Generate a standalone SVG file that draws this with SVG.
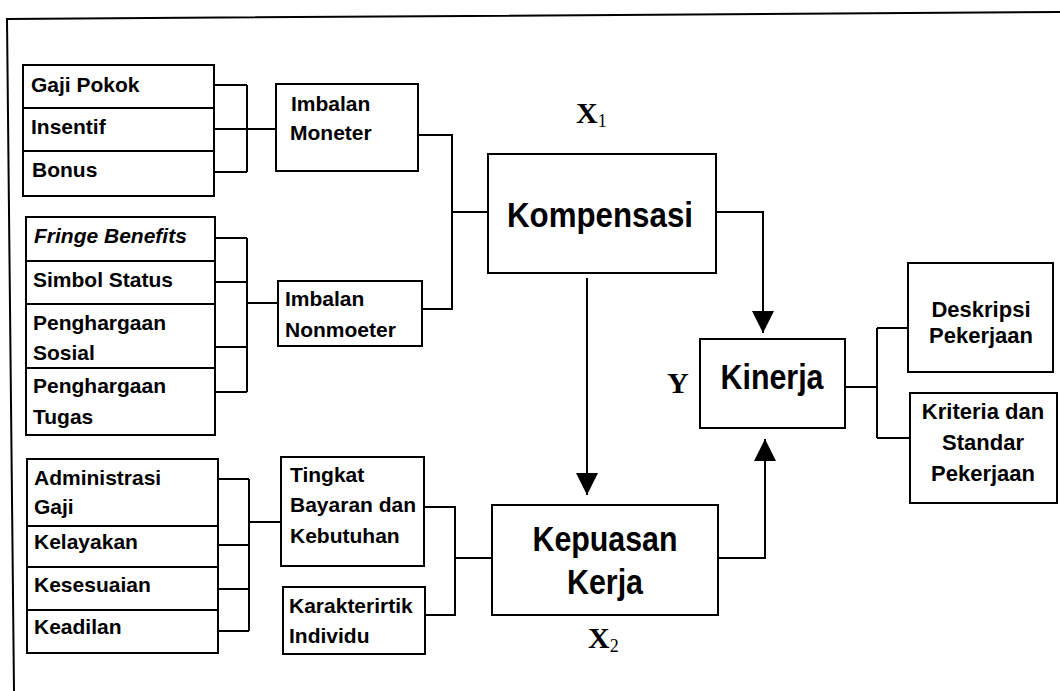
<svg xmlns="http://www.w3.org/2000/svg" width="1060" height="691" viewBox="0 0 1060 691">
<style>
.bx{fill:#fff;stroke:#000;stroke-width:2}
.ln{fill:none;stroke:#000;stroke-width:2}
.t{font-family:"Liberation Sans",Arial,sans-serif;font-weight:bold;font-size:21px;fill:#000}
.tr{font-family:"Liberation Sans",Arial,sans-serif;font-weight:bold;font-size:22px;fill:#000;text-anchor:middle}
.big{font-family:"Liberation Sans",Arial,sans-serif;font-weight:bold;font-size:35px;fill:#000;text-anchor:middle}
.v{font-family:"Liberation Serif","Times New Roman",serif;font-weight:bold;font-size:30px;fill:#000}
</style>
<defs>
<marker id="ah" viewBox="0 0 22 22" refX="22" refY="11" markerWidth="22" markerHeight="22" markerUnits="userSpaceOnUse" orient="auto">
<path d="M0,0 L22,11 L0,22 Z" fill="#000"/>
</marker>
</defs>
<rect width="1060" height="691" fill="#fff"/>
<g id="frame">
<path class="ln" d="M14,691 L7,19 L1060,12"/>
</g>
<g id="connectors">
<path class="ln" d="M214,85 H247 M214,129 H247 M214,172 H247 M247,85 V172 M247,129 H276"/>
<path class="ln" d="M215,238 H247 M215,282 H247 M215,347 H247 M215,392 H247 M247,238 V392 M247,303 H278"/>
<path class="ln" d="M218,479 H249 M218,545 H249 M218,589 H249 M218,631 H249 M249,479 V631 M249,522 H281"/>
<path class="ln" d="M418,135 H452 V309 H422 M452,212 H488"/>
<path class="ln" d="M424,507 H455 V615 H425 M455,558 H492"/>
<path class="ln" d="M716,212 H763 V333" marker-end="url(#ah)"/>
<path class="ln" d="M587,278 V495" marker-end="url(#ah)"/>
<path class="ln" d="M718,558 H765 V439" marker-end="url(#ah)"/>
<path class="ln" d="M845,387 H877 M877,328 V438 M877,328 H908 M877,438 H910"/>
</g>
<g id="gaji-pokok"><rect class="bx" x="23" y="65" width="191" height="43"/><text class="t" x="31" y="92">Gaji Pokok</text></g>
<g id="insentif"><rect class="bx" x="23" y="108" width="191" height="43"/><text class="t" x="31" y="134">Insentif</text></g>
<g id="bonus"><rect class="bx" x="23" y="151" width="191" height="45"/><text class="t" x="32" y="177">Bonus</text></g>
<g id="imbalan-moneter"><rect class="bx" x="276" y="84" width="142" height="87"/><text class="t" x="291" y="111">Imbalan</text><text class="t" x="290" y="140">Moneter</text></g>
<g id="fringe-benefits"><rect class="bx" x="26" y="217" width="189" height="44"/><text class="t" x="34" y="243" font-style="italic">Fringe Benefits</text></g>
<g id="simbol-status"><rect class="bx" x="26" y="261" width="189" height="43"/><text class="t" x="33" y="287">Simbol Status</text></g>
<g id="penghargaan-sosial"><rect class="bx" x="26" y="304" width="189" height="64"/><text class="t" x="33" y="330">Penghargaan</text><text class="t" x="33" y="360">Sosial</text></g>
<g id="penghargaan-tugas"><rect class="bx" x="26" y="368" width="189" height="67"/><text class="t" x="33" y="393">Penghargaan</text><text class="t" x="33" y="424">Tugas</text></g>
<g id="imbalan-nonmoeter"><rect class="bx" x="278" y="281" width="144" height="65"/><text class="t" x="285" y="306">Imbalan</text><text class="t" x="285" y="337">Nonmoeter</text></g>
<g id="administrasi-gaji"><rect class="bx" x="27" y="459" width="191" height="67"/><text class="t" x="34" y="485">Administrasi</text><text class="t" x="34" y="514">Gaji</text></g>
<g id="kelayakan"><rect class="bx" x="27" y="526" width="191" height="41"/><text class="t" x="34" y="549">Kelayakan</text></g>
<g id="kesesuaian"><rect class="bx" x="27" y="567" width="191" height="43"/><text class="t" x="34" y="592">Kesesuaian</text></g>
<g id="keadilan"><rect class="bx" x="27" y="610" width="191" height="43"/><text class="t" x="34" y="634">Keadilan</text></g>
<g id="tingkat-bayaran"><rect class="bx" x="281" y="457" width="143" height="109"/><text class="t" x="290" y="482">Tingkat</text><text class="t" x="290" y="512">Bayaran dan</text><text class="t" x="290" y="543">Kebutuhan</text></g>
<g id="karakteristik-individu"><rect class="bx" x="283" y="587" width="142" height="67"/><text class="t" x="289" y="613">Karakterirtik</text><text class="t" x="289" y="643">Individu</text></g>
<g id="kompensasi"><rect class="bx" x="488" y="154" width="228" height="119"/><text class="big" x="600" y="227" textLength="186" lengthAdjust="spacingAndGlyphs">Kompensasi</text></g>
<g id="kepuasan-kerja"><rect class="bx" x="492" y="505" width="226" height="110"/><text class="big" x="605" y="551" textLength="145" lengthAdjust="spacingAndGlyphs">Kepuasan</text><text class="big" x="605" y="594" textLength="76" lengthAdjust="spacingAndGlyphs">Kerja</text></g>
<g id="kinerja"><rect class="bx" x="700" y="339" width="145" height="89"/><text class="big" x="772" y="389" textLength="103" lengthAdjust="spacingAndGlyphs">Kinerja</text></g>
<g id="deskripsi-pekerjaan"><rect class="bx" x="908" y="263" width="145" height="109"/><text class="tr" x="981" y="317">Deskripsi</text><text class="tr" x="981" y="343">Pekerjaan</text></g>
<g id="kriteria-standar"><rect class="bx" x="910" y="393" width="147" height="110"/><text class="tr" x="983" y="419">Kriteria dan</text><text class="tr" x="983" y="450">Standar</text><text class="tr" x="983" y="481">Pekerjaan</text></g>
<g id="labels">
<text class="v" x="576" y="123">X<tspan font-size="18" font-weight="normal" dy="4">1</tspan></text>
<text class="v" x="588" y="648">X<tspan font-size="18" font-weight="normal" dy="4">2</tspan></text>
<text class="v" x="667" y="393">Y</text>
</g>
</svg>
